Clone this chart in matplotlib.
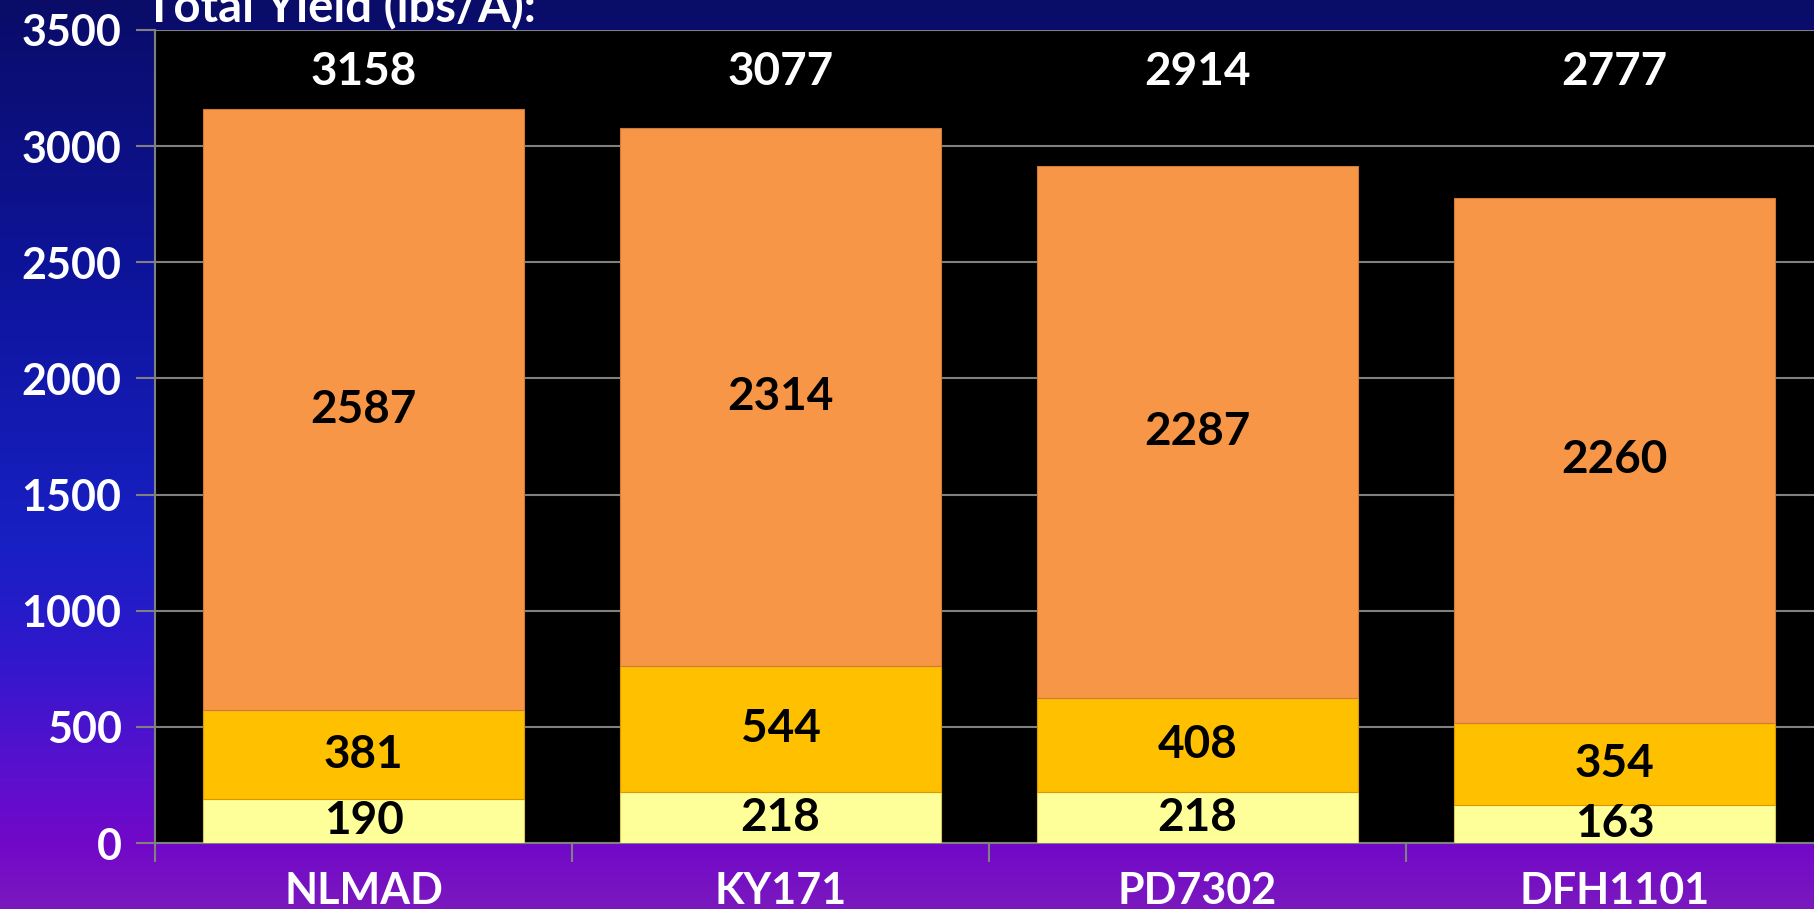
import numpy as np
import matplotlib
matplotlib.use('Agg')
import matplotlib.pyplot as plt
from matplotlib.colors import LinearSegmentedColormap

# data
varieties = ['NLMAD', 'KY171', 'PD7302', 'DFH1101']
bottom_vals = [190, 218, 218, 163]     # light yellow
middle_vals = [381, 544, 408, 354]     # gold
top_vals = [2587, 2314, 2287, 2260]    # orange
totals = [3158, 3077, 2914, 2777]
yticks = [0, 500, 1000, 1500, 2000, 2500, 3000, 3500]

seg_colors = ['#FFFF99', '#FFC000', '#F79646']
seg_edges = ['#D8C860', '#D89A00', '#D07A38']

plt.rcParams['font.family'] = ['Lato', 'DejaVu Sans']
plt.rcParams['font.weight'] = 'bold'

fig = plt.figure(figsize=(18.14, 9.09), dpi=100)

# background gradient, navy at the top to purple at the bottom
bg = fig.add_axes([0, 0, 1, 1], zorder=-10)
grad_cmap = LinearSegmentedColormap.from_list('bg', [
    (0.0, '#0A0C68'), (0.3, '#0E149A'), (0.6, '#1820C4'),
    (0.72, '#3018CC'), (0.85, '#5A10CE'), (0.93, '#7208C8'), (1.0, '#7A18BE')])
bg.imshow(np.linspace(0, 1, 256).reshape(-1, 1), aspect='auto', cmap=grad_cmap,
          extent=[0, 1, 1, 0])
bg.set_axis_off()

ax = fig.add_axes([155/1814, 1 - 843/909, 1668/1814, (843 - 30)/909])
ax.set_facecolor('black')

x = np.arange(len(varieties))
w = 0.77
b1 = np.array(bottom_vals)
b2 = b1 + np.array(middle_vals)
ax.bar(x, bottom_vals, w, color=seg_colors[0], edgecolor=seg_edges[0], linewidth=0.8, zorder=3)
ax.bar(x, middle_vals, w, bottom=b1, color=seg_colors[1], edgecolor=seg_edges[1], linewidth=0.8, zorder=3)
ax.bar(x, top_vals, w, bottom=b2, color=seg_colors[2], edgecolor=seg_edges[2], linewidth=0.8, zorder=3)

fs = 33
for i in range(len(varieties)):
    ax.text(x[i], bottom_vals[i] / 2, str(bottom_vals[i]), ha='center', va='center',
            fontsize=fs, fontweight='bold', color='black', zorder=4)
    ax.text(x[i], b1[i] + middle_vals[i] / 2, str(middle_vals[i]), ha='center', va='center',
            fontsize=fs, fontweight='bold', color='black', zorder=4)
    ax.text(x[i], b2[i] + top_vals[i] / 2, str(top_vals[i]), ha='center', va='center',
            fontsize=fs, fontweight='bold', color='black', zorder=4)
    ax.text(x[i], 3320, str(totals[i]), ha='center', va='center',
            fontsize=fs, fontweight='bold', color='white', zorder=4)

ax.set_xlim(-0.5, len(varieties) - 0.5)
ax.set_ylim(0, 3500)
ax.set_yticks(yticks)
ax.set_yticklabels([str(v) for v in yticks], fontsize=31, fontweight='bold', color='white')
ax.set_xticks(x)
ax.set_xticklabels(varieties, fontsize=31, fontweight='bold', color='white')
ax.set_xticks(np.arange(len(varieties) + 1) - 0.5, minor=True)
ax.tick_params(axis='x', which='major', length=0, pad=20)
ax.tick_params(axis='x', which='minor', length=14, width=1.5, color='#808080', direction='out')
ax.tick_params(axis='y', length=14, width=1.5, color='#808080', pad=10)
ax.grid(axis='y', color='#808080', linewidth=1.5, zorder=0)
ax.set_axisbelow(True)
for s in ['top', 'right']:
    ax.spines[s].set_visible(False)
for s in ['left', 'bottom']:
    ax.spines[s].set_color('#808080')
    ax.spines[s].set_linewidth(1.5)

fig.text(125*1.157/1814, 1 - 19*1.157/909, 'Total Yield (lbs/A):', fontsize=34,
         fontweight='bold', color='white', ha='left', va='baseline')

fig.savefig('out.png', dpi=100, facecolor=fig.get_facecolor())
